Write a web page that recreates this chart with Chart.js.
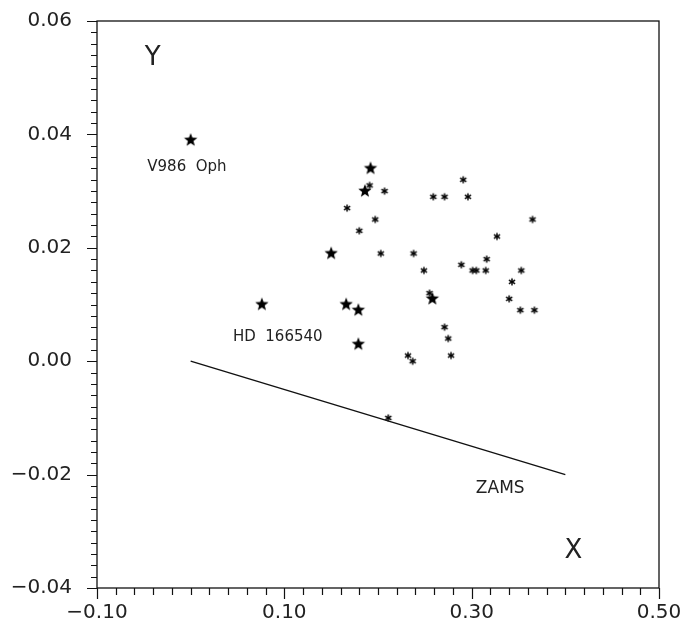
<!DOCTYPE html>
<html>
<head>
<meta charset="utf-8">
<script src="https://cdn.jsdelivr.net/npm/chart.js@4"></script>
<style>
  body { margin: 0; background: #fff; }
  #wrap { width: 690px; height: 620px; }
</style>
</head>
<body>
<div id="wrap"><canvas id="grafico" width="690" height="620"></canvas></div>
<script>
// datos
const bigStarX = [0.000, 0.192, 0.186, 0.150, 0.076, 0.166, 0.179, 0.179, 0.258];
const bigStarY = [0.039, 0.034, 0.030, 0.019, 0.010, 0.010, 0.009, 0.003, 0.011];

const smallStarX = [0.191, 0.207, 0.167, 0.197, 0.180, 0.203, 0.238, 0.249, 0.291, 0.259, 0.271,
  0.296, 0.365, 0.327, 0.316, 0.289, 0.301, 0.305, 0.315, 0.353, 0.343, 0.340, 0.255, 0.352,
  0.367, 0.271, 0.275, 0.278, 0.232, 0.237, 0.211];
const smallStarY = [0.031, 0.030, 0.027, 0.025, 0.023, 0.019, 0.019, 0.016, 0.032, 0.029, 0.029,
  0.029, 0.025, 0.022, 0.018, 0.017, 0.016, 0.016, 0.016, 0.016, 0.014, 0.011, 0.012, 0.009,
  0.009, 0.006, 0.004, 0.001, 0.001, 0.000, -0.010];

const zamsX = [0.00, 0.40];
const zamsY = [0.000, -0.020];

const xTickLabels = [-0.10, 0.10, 0.30, 0.50];
const yTickLabels = [-0.04, -0.02, 0.00, 0.02, 0.04, 0.06];

// textos sobre el grafico (coordenadas en unidades de datos)
const textos = ["Y", "X", "V986  Oph", "HD  166540", "ZAMS"];
const textosX = [-0.0405, 0.4085, -0.004, 0.093, 0.3305];
const textosY = [0.0535, -0.0335, 0.0342, 0.0043, -0.0224];
const textosSize = [26, 26, 15, 15, 17];
const textosFuente = ["'DejaVu Sans ExtraLight', 'DejaVu Sans'", "'DejaVu Sans ExtraLight', 'DejaVu Sans'",
  "'DejaVu Sans'", "'DejaVu Sans'", "'DejaVu Sans'"];

const xMinorStep = 0.02;
const yMinorStep = 0.002;

// marcador estrella rellena de 5 puntas
function crearEstrella(r) {
  const c = document.createElement("canvas");
  const s = Math.ceil(r * 2 + 2);
  c.width = s; c.height = s;
  const g = c.getContext("2d");
  g.fillStyle = "#000";
  g.beginPath();
  for (let i = 0; i < 10; i++) {
    const rad = i % 2 === 0 ? r : r * 0.42;
    const a = -Math.PI / 2 + i * Math.PI / 5;
    const px = s / 2 + rad * Math.cos(a);
    const py = s / 2 + rad * Math.sin(a);
    if (i === 0) g.moveTo(px, py); else g.lineTo(px, py);
  }
  g.closePath();
  g.fill();
  return c;
}

// marcador asterisco pequeño
function crearAsterisco(r) {
  const c = document.createElement("canvas");
  const s = Math.ceil(r * 2 + 2);
  c.width = s; c.height = s;
  const g = c.getContext("2d");
  g.strokeStyle = "#000";
  g.lineWidth = 1.5;
  for (let i = 0; i < 3; i++) {
    const a = Math.PI / 2 + i * Math.PI / 3;
    g.beginPath();
    g.moveTo(s / 2 + r * Math.cos(a), s / 2 + r * Math.sin(a));
    g.lineTo(s / 2 - r * Math.cos(a), s / 2 - r * Math.sin(a));
    g.stroke();
  }
  return c;
}

const estrella = crearEstrella(7);
const asterisco = crearAsterisco(3.6);

function puntos(xs, ys) {
  return xs.map((x, i) => ({ x: x, y: ys[i] }));
}

function formato(v) {
  return v.toFixed(2).replace("-", "\u2212");
}

// marco, ticks hacia fuera y textos
const marcoPlugin = {
  id: "marco",
  afterDraw(chart) {
    const ctx = chart.ctx;
    const area = chart.chartArea;
    const sx = chart.scales.x;
    const sy = chart.scales.y;
    ctx.save();
    ctx.strokeStyle = "#111";
    ctx.lineWidth = 1.3;
    ctx.strokeRect(area.left, area.top, area.right - area.left, area.bottom - area.top);

    ctx.lineWidth = 1.2;
    ctx.beginPath();
    const nx = Math.round((sx.max - sx.min) / xMinorStep);
    for (let i = 0; i <= nx; i++) {
      const v = sx.min + i * xMinorStep;
      const px = Math.round(sx.getPixelForValue(v)) + 0.5;
      const mayor = xTickLabels.some((t) => Math.abs(t - v) < 1e-6);
      ctx.moveTo(px, area.bottom);
      ctx.lineTo(px, area.bottom + (mayor ? 11 : 7));
    }
    const ny = Math.round((sy.max - sy.min) / yMinorStep);
    for (let i = 0; i <= ny; i++) {
      const v = sy.min + i * yMinorStep;
      const py = Math.round(sy.getPixelForValue(v)) + 0.5;
      const mayor = yTickLabels.some((t) => Math.abs(t - v) < 1e-6);
      ctx.moveTo(area.left, py);
      ctx.lineTo(area.left - (mayor ? 10 : 6), py);
    }
    ctx.stroke();

    ctx.fillStyle = "#222";
    ctx.textAlign = "center";
    ctx.textBaseline = "middle";
    textos.forEach((t, i) => {
      ctx.font = textosSize[i] + "px " + textosFuente[i] + ", sans-serif";
      ctx.fillText(t, sx.getPixelForValue(textosX[i]), sy.getPixelForValue(textosY[i]));
    });
    ctx.restore();
  },
};

const ctx = document.getElementById("grafico").getContext("2d");
const grafico = new Chart(ctx, {
  data: {
    datasets: [
      {
        type: "line",
        label: "ZAMS",
        data: puntos(zamsX, zamsY),
        borderColor: "#111",
        borderWidth: 1.4,
        pointRadius: 0,
        fill: false,
      },
      {
        type: "scatter",
        label: "estrellas",
        data: puntos(bigStarX, bigStarY),
        pointStyle: estrella,
      },
      {
        type: "scatter",
        label: "asteriscos",
        data: puntos(smallStarX, smallStarY),
        pointStyle: asterisco,
      },
    ],
  },
  options: {
    responsive: false,
    animation: false,
    layout: {
      padding: { left: 0, right: 31, top: 21, bottom: 0 },
    },
    plugins: {
      legend: { display: false },
      tooltip: { enabled: false },
    },
    scales: {
      x: {
        type: "linear",
        min: -0.1,
        max: 0.5,
        grid: { display: false },
        border: { display: false },
        afterBuildTicks: (scale) => {
          scale.ticks = xTickLabels.map((v) => ({ value: v }));
        },
        afterFit: (scale) => {
          scale.height = 32;
          scale.paddingLeft = 0;
          scale.paddingRight = 0;
        },
        ticks: {
          autoSkip: false,
          maxRotation: 0,
          padding: 5,
          color: "#222",
          font: { family: "'DejaVu Sans', sans-serif", size: 20 },
          callback: (v) => formato(v),
        },
      },
      y: {
        type: "linear",
        min: -0.04,
        max: 0.06,
        grid: { display: false },
        border: { display: false },
        afterBuildTicks: (scale) => {
          scale.ticks = yTickLabels.map((v) => ({ value: v }));
        },
        afterFit: (scale) => {
          scale.width = 97;
          scale.paddingTop = 0;
          scale.paddingBottom = 0;
        },
        ticks: {
          autoSkip: false,
          padding: 17,
          color: "#222",
          font: { family: "'DejaVu Sans', sans-serif", size: 20 },
          callback: (v) => formato(v),
        },
      },
    },
  },
  plugins: [marcoPlugin],
});
</script>
</body>
</html>
